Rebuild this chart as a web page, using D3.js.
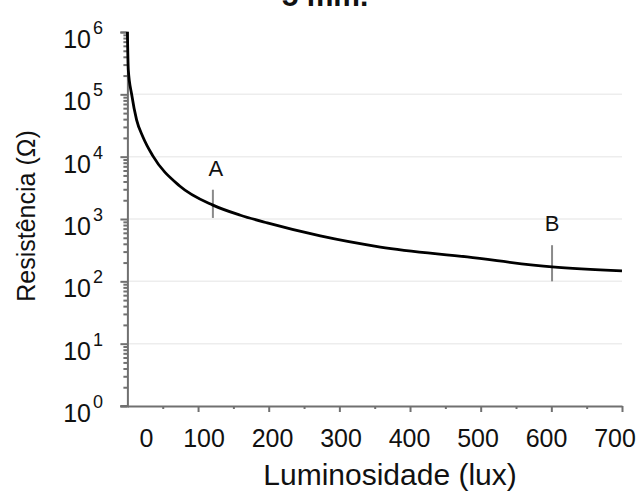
<!DOCTYPE html>
<html>
<head>
<meta charset="utf-8">
<script src="https://cdn.jsdelivr.net/npm/d3@7"></script>
<style>
  body { margin: 0; background: #fff; }
  text { font-family: "Liberation Sans", Arial, sans-serif; fill: #111; }
</style>
</head>
<body>
<div id="chart"></div>
<script>
// curve (lux -> ohm)
const luxValues = [0, 1.3, 6, 13, 22, 36, 74, 121, 160, 198, 273, 358, 481, 601, 700];
const resistance = [1000000, 245000, 100000, 39000, 20700, 10300, 3390, 1670, 1150, 865, 535, 355, 246, 170, 147];

const xTicks = [0, 100, 200, 300, 400, 500, 600, 700];
const xMinor = [50, 150, 250, 350, 450, 550, 650];
const yDecades = [0, 1, 2, 3, 4, 5, 6];

// markers A and B
const markers = [
  { name: 'A', lux: 121, lo: 1040, hi: 2950 },
  { name: 'B', lux: 601, lo: 100, hi: 380 }
];

const width = 641, height = 496;

const svg = d3.select('#chart').append('svg')
  .attr('width', width)
  .attr('height', height);

const x = d3.scaleLinear().domain([0, 700]).range([127.4, 622]);
const y = d3.scaleLog().domain([1, 1e6]).range([406, 32]);

// the printed labels sit a bit off the ticks
const labelX = d3.scaleLinear().domain([100, 700]).range([x(100) + 6, x(700) - 7]);

// light grid
svg.append('g')
  .selectAll('line')
  .data(yDecades.slice(1, 6))
  .enter()
  .append('line')
    .attr('x1', x(0) + 1)
    .attr('x2', x(700))
    .attr('y1', d => y(Math.pow(10, d)))
    .attr('y2', d => y(Math.pow(10, d)))
    .attr('stroke', '#ededed')
    .attr('stroke-width', 1.5);

const axisColor = '#707070';

// y axis: majors + minors on the left
const yMinorVals = [];
yDecades.slice(0, 6).forEach(d => {
  for (let k = 2; k <= 9; k++) yMinorVals.push(k * Math.pow(10, d));
});

svg.append('g')
  .attr('transform', `translate(${x(0)},0)`)
  .call(d3.axisLeft(y).tickValues(yDecades.map(d => Math.pow(10, d))).tickSize(7).tickFormat(''));
const yAxisMinor = svg.append('g')
  .attr('transform', `translate(${x(0)},0)`)
  .call(d3.axisLeft(y).tickValues(yMinorVals).tickSize(4).tickFormat(''));
yAxisMinor.select('.domain').remove();

// x axis
svg.append('g')
  .attr('transform', `translate(0,${y(1)})`)
  .call(d3.axisBottom(x).tickValues(xTicks.slice(1)).tickSize(6).tickSizeOuter(0).tickFormat(''));
const xAxisMinor = svg.append('g')
  .attr('transform', `translate(0,${y(1)})`)
  .call(d3.axisBottom(x).tickValues(xMinor).tickSize(3).tickFormat(''));
xAxisMinor.select('.domain').remove();

svg.selectAll('.domain, .tick line')
  .attr('stroke', axisColor)
  .attr('stroke-width', 2);

// x axis line runs slightly left of the y axis
svg.append('line')
  .attr('x1', x(0) - 7)
  .attr('x2', x(0))
  .attr('y1', y(1))
  .attr('y2', y(1))
  .attr('stroke', axisColor)
  .attr('stroke-width', 2);

// y tick labels 10^n
const yLab = svg.append('g');
yDecades.forEach(d => {
  yLab.append('text')
    .attr('x', 91)
    .attr('y', y(Math.pow(10, d)) + 16)
    .attr('text-anchor', 'end')
    .style('font-size', '25px')
    .text('10');
  yLab.append('text')
    .attr('x', 93)
    .attr('y', y(Math.pow(10, d)) + 2)
    .style('font-size', '18px')
    .text(d);
});

// x tick labels
svg.append('g')
  .selectAll('text')
  .data(xTicks)
  .enter()
  .append('text')
    .attr('x', d => d === 0 ? x(0) + 19 : labelX(d))
    .attr('y', 447)
    .attr('text-anchor', 'middle')
    .style('font-size', '25px')
    .text(d => d);

// marker ticks
svg.append('g')
  .selectAll('line')
  .data(markers)
  .enter()
  .append('line')
    .attr('x1', d => x(d.lux))
    .attr('x2', d => x(d.lux))
    .attr('y1', d => y(d.lo))
    .attr('y2', d => y(d.hi))
    .attr('stroke', '#8a8a8a')
    .attr('stroke-width', 2);

// the curve
const line = d3.line()
  .x((d, i) => x(luxValues[i]))
  .y(d => y(d))
  .curve(d3.curveMonotoneX);

svg.append('path')
  .datum(resistance)
  .attr('d', line)
  .attr('fill', 'none')
  .attr('stroke', '#000')
  .attr('stroke-width', 2.8)
  .attr('stroke-linejoin', 'round');

// marker letters
svg.append('g')
  .selectAll('text')
  .data(markers)
  .enter()
  .append('text')
    .attr('x', d => x(d.lux) + (d.name === 'A' ? 3 : 0))
    .attr('y', d => y(d.hi) - 14)
    .attr('text-anchor', 'middle')
    .style('font-size', '22px')
    .text(d => d.name);

// axis titles
svg.append('text')
  .attr('transform', 'translate(35,216) rotate(-90)')
  .attr('text-anchor', 'middle')
  .style('font-size', '25px')
  .text('Resistência (Ω)');

svg.append('text')
  .attr('x', 390)
  .attr('y', 485)
  .attr('text-anchor', 'middle')
  .style('font-size', '30px')
  .text('Luminosidade (lux)');

// title, cut by the top edge as in the source
svg.append('text')
  .attr('x', 325)
  .attr('y', 6)
  .attr('text-anchor', 'middle')
  .style('font-size', '30px')
  .style('font-weight', 'bold')
  .text('5 mm.');
</script>
</body>
</html>
